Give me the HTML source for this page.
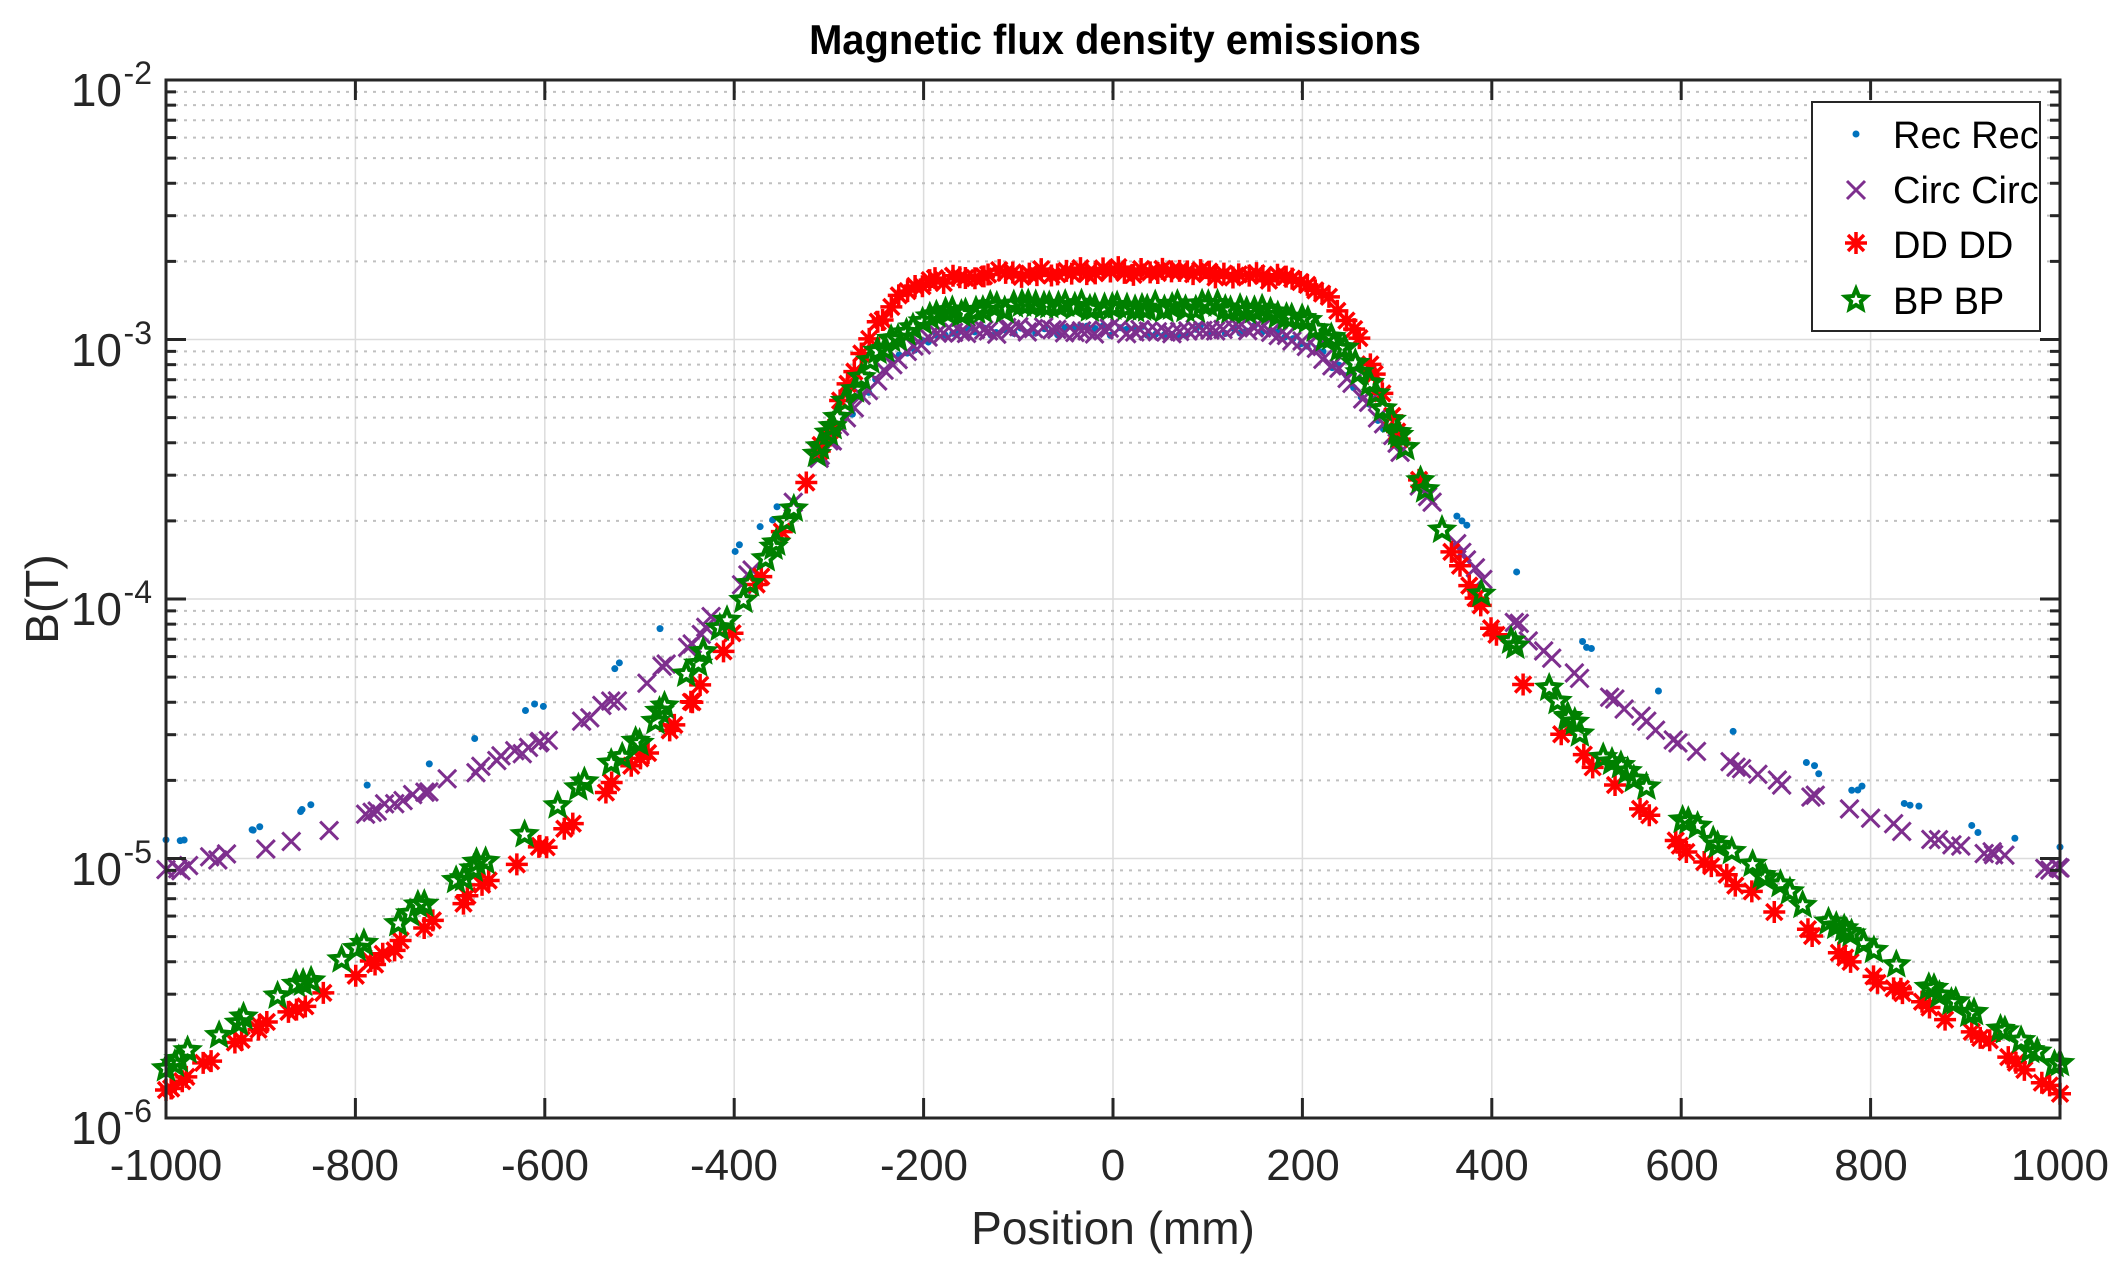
<!DOCTYPE html>
<html><head><meta charset="utf-8"><style>
html,body{margin:0;padding:0;background:#fff;}
svg{display:block;font-family:"Liberation Sans",Arial,sans-serif;}
</style></head><body>
<svg id="s" width="2115" height="1273" viewBox="0 0 2115 1273" xmlns="http://www.w3.org/2000/svg">
<rect width="2115" height="1273" fill="#fff"/>
<g id="grid"></g>
<g id="data"></g>
<rect x="166" y="80" width="1894" height="1038" fill="none" stroke="#262626" stroke-width="3"/>
<g id="ticks"></g>
<text x="1115" y="54" font-size="42" font-weight="bold" text-anchor="middle" fill="#000" transform="translate(1115,0) scale(0.95,1) translate(-1115,0)">Magnetic flux density emissions</text>
<g font-size="44" fill="#262626" text-anchor="middle">
<text x="166" y="1180">-1000</text><text x="355" y="1180">-800</text><text x="545" y="1180">-600</text>
<text x="734" y="1180">-400</text><text x="924" y="1180">-200</text><text x="1113" y="1180">0</text>
<text x="1303" y="1180">200</text><text x="1492" y="1180">400</text><text x="1682" y="1180">600</text>
<text x="1871" y="1180">800</text><text x="2060" y="1180">1000</text>
</g>
<g font-size="46" fill="#262626" text-anchor="end">
<text x="122" y="106">10</text><text x="152" y="84" font-size="32">-2</text>
<text x="122" y="366">10</text><text x="152" y="344" font-size="32">-3</text>
<text x="122" y="625">10</text><text x="152" y="603" font-size="32">-4</text>
<text x="122" y="885">10</text><text x="152" y="863" font-size="32">-5</text>
<text x="122" y="1144">10</text><text x="152" y="1122" font-size="32">-6</text>
</g>
<text x="1113" y="1244" font-size="46" text-anchor="middle" fill="#262626">Position (mm)</text>
<text transform="translate(58,599) rotate(-90)" font-size="46" text-anchor="middle" fill="#262626">B(T)</text>
<rect x="1812" y="102" width="228" height="229" fill="#fff" stroke="#262626" stroke-width="2"/>
<g id="leg"></g>
<g font-size="38" fill="#000">
<text x="1893" y="148">Rec Rec</text>
<text x="1893" y="203">Circ Circ</text>
<text x="1893" y="258">DD DD</text>
<text x="1893" y="314">BP BP</text>
</g>
</svg>
<script>
var NS="http://www.w3.org/2000/svg";
function el(p,t,a){var e=document.createElementNS(NS,t);for(var k in a)e.setAttribute(k,a[k]);p.appendChild(e);return e;}
var L=166,R=2060,T=80,B=1118,D=259.5;
function X(v){return 1113+v*0.947;}
function Y(l){return T+(-2-l)*D;}
var g=document.getElementById('grid'),tk=document.getElementById('ticks');
for(var v=-800;v<=800;v+=200){el(g,'line',{x1:X(v),x2:X(v),y1:T,y2:B,stroke:'#dcdcdc','stroke-width':1.5});}
for(var v=-1000;v<=1000;v+=200){el(tk,'line',{x1:X(v),x2:X(v),y1:B,y2:B-20,stroke:'#262626','stroke-width':3});el(tk,'line',{x1:X(v),x2:X(v),y1:T,y2:T+20,stroke:'#262626','stroke-width':3});}
for(var d=-2;d>-6;d--){
 for(var m=1;m<10;m++){
  var y=Y(d-1+Math.log10(m));
  if(m==1){y=Y(d-1);el(g,'line',{x1:L,x2:R,y1:y,y2:y,stroke:'#dcdcdc','stroke-width':1.5});
   el(tk,'line',{x1:L,x2:L+20,y1:y,y2:y,stroke:'#262626','stroke-width':3});el(tk,'line',{x1:R,x2:R-20,y1:y,y2:y,stroke:'#262626','stroke-width':3});}
  else{el(g,'line',{x1:L,x2:R,y1:y,y2:y,stroke:'#c0c0c0','stroke-width':2,'stroke-dasharray':'3,6'});
   el(tk,'line',{x1:L,x2:L+10,y1:y,y2:y,stroke:'#262626','stroke-width':3});el(tk,'line',{x1:R,x2:R-10,y1:y,y2:y,stroke:'#262626','stroke-width':3});}
 }
}
var seed=7;function rnd(){seed=(seed*16807)%2147483647;return seed/2147483647;}
function interp(P,x){x=Math.abs(x);for(var i=0;i<P.length-1;i++){if(x<=P[i+1][0]){var t=(x-P[i][0])/(P[i+1][0]-P[i][0]);return P[i][1]+t*(P[i+1][1]-P[i][1]);}}return P[P.length-1][1];}
var DD=[[0,-2.735],[150,-2.75],[200,-2.78],[230,-2.85],[260,-3.0],[300,-3.35],[350,-3.75],[400,-4.12],[450,-4.42],[500,-4.62],[600,-4.95],[700,-5.2],[800,-5.45],[900,-5.65],[1000,-5.9]];
var BP=[[0,-2.87],[150,-2.88],[200,-2.92],[250,-3.05],[300,-3.35],[350,-3.75],[400,-4.05],[450,-4.3],[500,-4.55],[600,-4.84],[700,-5.1],[800,-5.35],[900,-5.58],[1000,-5.8]];
var CI=[[0,-2.965],[150,-2.965],[200,-3.0],[250,-3.15],[300,-3.4],[350,-3.72],[400,-3.97],[450,-4.2],[500,-4.33],[600,-4.55],[700,-4.7],[800,-4.85],[900,-4.96],[1000,-5.05]];
var RE=[[0,-2.965],[150,-2.965],[200,-3.0],[250,-3.15],[300,-3.4],[350,-3.65],[400,-3.8],[450,-4.0],[480,-4.1],[500,-4.2],[600,-4.4],[700,-4.6],[800,-4.75],[900,-4.88],[1000,-4.94]];
function xs(n){var a=[];for(var x=-300;x<=300;x+=8)a.push(x+rnd()*4);
 for(var s=-1;s<=1;s+=2){var x=300;while(x<1000){var c=1+Math.floor(rnd()*3);for(var i=0;i<c;i++){a.push(s*Math.min(1000,x+i*(4+rnd()*6)));}x+=n*(0.6+rnd()*0.8);}}
 a.push(-1000);a.push(1000);return a;}
var dg=document.getElementById('data');
function dot(p,x,y,c){el(p,'circle',{cx:x,cy:y,r:3.5,fill:c});}
function cross(p,x,y,c){var s=9;el(p,'path',{d:'M'+(x-s)+' '+(y-s)+'L'+(x+s)+' '+(y+s)+'M'+(x-s)+' '+(y+s)+'L'+(x+s)+' '+(y-s),stroke:c,'stroke-width':3,fill:'none'});}
function ast(p,x,y,c){var s=11,d=8;el(p,'path',{d:'M'+(x-s)+' '+y+'L'+(x+s)+' '+y+'M'+x+' '+(y-s)+'L'+x+' '+(y+s)+'M'+(x-d)+' '+(y-d)+'L'+(x+d)+' '+(y+d)+'M'+(x-d)+' '+(y+d)+'L'+(x+d)+' '+(y-d),stroke:c,'stroke-width':3.5,fill:'none'});}
function star(p,x,y,c){var pts=[];for(var i=0;i<10;i++){var r=i%2?5:11,a=-Math.PI/2+i*Math.PI/5;pts.push((x+r*Math.cos(a)).toFixed(1)+','+(y+r*Math.sin(a)).toFixed(1));}el(p,'polygon',{points:pts.join(' '),stroke:c,'stroke-width':4,fill:'none'});}
function series(P,n,f,c,noise){var a=xs(n);a.forEach(function(x){var l=interp(P,x)+(rnd()-0.5)*noise;f(dg,X(x),Y(l),c);});}
series(RE,60,dot,'#0072BD',0.04);
series(CI,32,cross,'#7E2F8E',0.03);
series(DD,30,ast,'#FF0000',0.03);
series(BP,30,star,'#008000',0.03);
var lg=document.getElementById('leg');
dot(lg,1856,134,'#0072BD');cross(lg,1856,190,'#7E2F8E');ast(lg,1856,243,'#FF0000');star(lg,1856,300,'#008000');
</script>
</body></html>
